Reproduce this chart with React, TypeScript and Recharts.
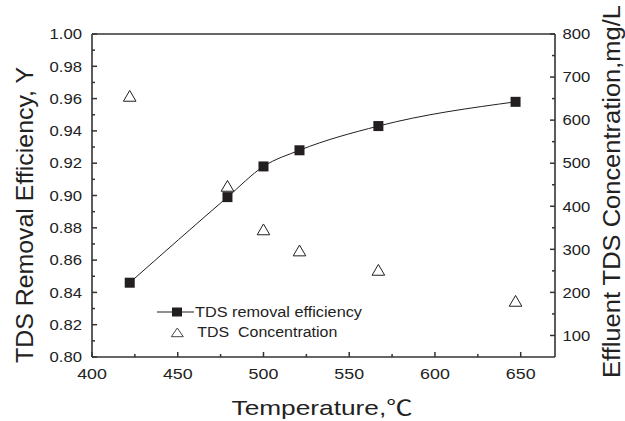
import React from "react"
import {
  ComposedChart,
  Line,
  Scatter,
  XAxis,
  YAxis,
  ReferenceLine,
  Legend,
} from "recharts"

// values
const temperatures = [422, 479, 500, 521, 567, 647]
const removalEfficiency = [0.846, 0.899, 0.918, 0.928, 0.943, 0.958]
const tdsConcentration = [655, 446, 345, 296, 251, 179]

const xTicks = [400, 425, 450, 475, 500, 525, 550, 575, 600, 625, 650]
const leftTicks = [
  0.8, 0.81, 0.82, 0.83, 0.84, 0.85, 0.86, 0.87, 0.88, 0.89, 0.9,
  0.91, 0.92, 0.93, 0.94, 0.95, 0.96, 0.97, 0.98, 0.99, 1.0,
]
const rightTicks = [100, 150, 200, 250, 300, 350, 400, 450, 500, 550, 600, 650, 700, 750, 800]

const data = temperatures.map((t, i) => ({
  t,
  eff: removalEfficiency[i],
  conc: tdsConcentration[i],
}))

const FONT = "'Liberation Sans', Arial, 'Noto Sans CJK SC', sans-serif"
const AXIS = "#333333"
const INK = "#231f20"
const SX = 1.15 // the original figure is stretched a little horizontally

const XTick = (props: any) => {
  const { x, y, payload } = props
  const v = payload.value
  const major = v % 50 === 0
  return (
    <g>
      <line x1={x} x2={x} y1={y} y2={y - (major ? 5 : 3)} stroke={AXIS} strokeWidth={1.5} />
      {major && (
        <g transform={`translate(${x},${y + 22}) scale(${SX},1)`}>
          <text x={0} y={0} textAnchor="middle" fontSize={15.5} fill="#222" fontFamily={FONT}>
            {v}
          </text>
        </g>
      )}
    </g>
  )
}

const LeftTick = (props: any) => {
  const { x, y, payload } = props
  const v = payload.value
  const major = Math.round(v * 100) % 2 === 0
  return (
    <g>
      <line x1={x} x2={x + (major ? 5 : 3)} y1={y} y2={y} stroke={AXIS} strokeWidth={1.5} />
      {major && (
        <g transform={`translate(${x - 10},${y}) scale(${SX},1)`}>
          <text x={0} y={0} dy="0.36em" textAnchor="end" fontSize={14.5} fill="#222" fontFamily={FONT}>
            {v.toFixed(2)}
          </text>
        </g>
      )}
    </g>
  )
}

const RightTick = (props: any) => {
  const { x, y, payload } = props
  const v = payload.value
  const major = v % 100 === 0
  return (
    <g>
      <line x1={x} x2={x - (major ? 5 : 3)} y1={y} y2={y} stroke={AXIS} strokeWidth={1.5} />
      {major && (
        <g transform={`translate(${x + 7.5},${y}) scale(${SX},1)`}>
          <text x={0} y={0} dy="0.36em" textAnchor="start" fontSize={14.5} fill="#222" fontFamily={FONT}>
            {v}
          </text>
        </g>
      )}
    </g>
  )
}

const SquareDot = (props: any) => {
  const { cx, cy, index } = props
  if (cx == null || cy == null) return <g key={index} />
  return <rect key={index} x={cx - 5} y={cy - 5} width={10} height={10} fill={INK} />
}

const Triangle = (props: any) => {
  const { cx, cy } = props
  if (cx == null || cy == null) return <g />
  return (
    <path
      d={`M${cx},${cy - 6} L${cx - 6.3},${cy + 4.8} L${cx + 6.3},${cy + 4.8} Z`}
      fill="none"
      stroke={INK}
      strokeWidth={1}
    />
  )
}

// legend drawn as in the original (line-square-line, hollow triangle)
const LegendBox = () => (
  <svg width={230} height={50} style={{ overflow: "visible", display: "block" }}>
    <line x1={7} x2={44} y1={16} y2={16} stroke={INK} strokeWidth={1.2} />
    <rect x={22} y={11.5} width={10} height={9} fill={INK} />
    <text x={45} y={21.3} fontSize={14} fill="#222" fontFamily={FONT} textLength={167} lengthAdjust="spacingAndGlyphs">
      TDS removal efficiency
    </text>
    <path d="M27.3,32 L21.3,40.7 L33.3,40.7 Z" fill="none" stroke="#444" strokeWidth={1} />
    <text
      x={47.3}
      y={40.7}
      fontSize={14}
      fill="#222"
      fontFamily={FONT}
      textLength={140}
      lengthAdjust="spacingAndGlyphs"
      style={{ whiteSpace: "pre" }}
    >
      {"TDS  Concentration"}
    </text>
  </svg>
)

export default function App() {
  return (
    <div style={{ position: "absolute", left: 0, top: 0, width: 625, height: 421, background: "#fff" }}>
      <ComposedChart
        width={625}
        height={421}
        data={data}
        margin={{ top: 34, right: 0, bottom: 0, left: 0 }}
      >
        <XAxis
          dataKey="t"
          type="number"
          domain={[400, 670]}
          ticks={xTicks}
          interval={0}
          height={64}
          tickSize={0}
          tickMargin={0}
          tickLine={false}
          axisLine={{ stroke: AXIS, strokeWidth: 1.6 }}
          tick={<XTick />}
          allowDataOverflow
        />
        <YAxis
          yAxisId="left"
          orientation="left"
          type="number"
          domain={[0.8, 1.0]}
          ticks={leftTicks}
          interval={0}
          width={92}
          tickSize={0}
          tickMargin={0}
          tickLine={false}
          axisLine={{ stroke: AXIS, strokeWidth: 1.6 }}
          tick={<LeftTick />}
          allowDataOverflow
        />
        <YAxis
          yAxisId="right"
          orientation="right"
          type="number"
          domain={[50, 800]}
          ticks={rightTicks}
          interval={0}
          width={70}
          tickSize={0}
          tickMargin={0}
          tickLine={false}
          axisLine={{ stroke: AXIS, strokeWidth: 1.6 }}
          tick={<RightTick />}
          allowDataOverflow
        />
        <ReferenceLine yAxisId="left" y={1.0} stroke={AXIS} strokeWidth={1.6} />
        <Line
          yAxisId="left"
          dataKey="eff"
          type="monotone"
          stroke={INK}
          strokeWidth={1}
          dot={<SquareDot />}
          activeDot={false}
          isAnimationActive={false}
        />
        <Scatter
          yAxisId="right"
          dataKey="conc"
          shape={<Triangle />}
          isAnimationActive={false}
        />
        <Legend
          layout="vertical"
          align="center"
          verticalAlign="middle"
          content={<LegendBox />}
          wrapperStyle={{ left: 150, top: 296, width: 230, height: 50 }}
        />
      </ComposedChart>

      {/* axis titles */}
      <svg
        width={625}
        height={421}
        style={{ position: "absolute", left: 0, top: 0, pointerEvents: "none" }}
      >
        <text
          x={322}
          y={415}
          textAnchor="middle"
          fontSize={21}
          fill="#222"
          fontFamily={FONT}
          textLength={181}
          lengthAdjust="spacingAndGlyphs"
        >
          Temperature,
          <tspan fontFamily="'Noto Sans CJK SC', sans-serif">℃</tspan>
        </text>
        <text
          x={0}
          y={0}
          transform="translate(33,215) rotate(-90)"
          textAnchor="middle"
          fontSize={24}
          fill="#222"
          fontFamily={FONT}
          textLength={296}
          lengthAdjust="spacingAndGlyphs"
        >
          TDS Removal Efficiency, Y
        </text>
        <text
          x={0}
          y={0}
          transform="translate(619.5,191.5) rotate(-90)"
          textAnchor="middle"
          fontSize={23}
          fill="#222"
          fontFamily={FONT}
          textLength={373}
          lengthAdjust="spacingAndGlyphs"
        >
          Effluent TDS Concentration,mg/L
        </text>
      </svg>
    </div>
  )
}
